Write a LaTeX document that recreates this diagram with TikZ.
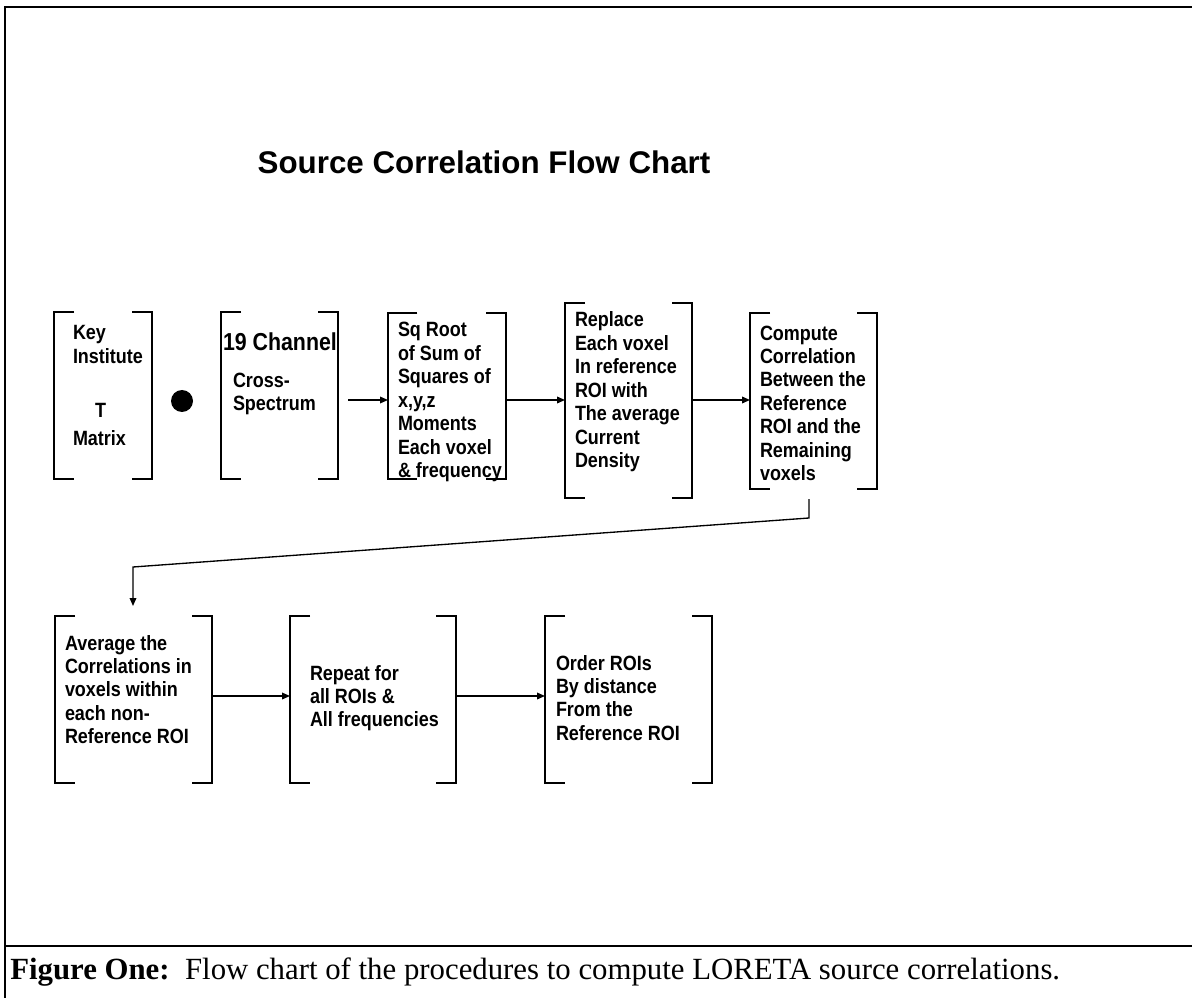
\documentclass[tikz,border=0pt]{standalone}
\usepackage{fontspec}
\setmainfont{Liberation Serif}
\newfontfamily\arialfont{Liberation Sans}
\newfontfamily\arialnarrow[FakeStretch=0.87]{Liberation Sans}
\usetikzlibrary{arrows.meta}
\newcommand{\boxfont}{\arialnarrow\bfseries\fontsize{15.5}{17.6}\selectfont}
% width, height, indent, first baseline, lines
\newcommand{\flowtext}[5]{\parbox[t][#2][t]{#1}{\raggedright\leftskip=#3\relax
  \rightskip=0pt plus 1fil minus 60pt\relax\hyphenpenalty=10000\relax\rule{0pt}{#4}#5}}
\begin{document}
\begin{tikzpicture}[x=0.75pt, y=-0.75pt, blk/.style={inner sep=0pt, outer sep=0pt, font=\boxfont}, bracket/.style={line width=1.3pt}, flow/.style={-{Triangle[length=6pt, width=5pt]}, line width=1pt}]
	\useasboundingbox (0,0) rectangle (1192,998);
	\draw[line width=1.5pt] (1192,7) -- (5,7) -- (5,998);
	\draw[line width=1.5pt] (5,946) -- (1192,946);
	\node[font=\arialfont\bfseries\fontsize{23.5}{28}\selectfont] (title) at (484,162) {Source Correlation Flow Chart};
	% first row
	\node[blk] (b1) at (103,395.5) {\flowtext{73.5pt}{125.25pt}{14.25pt}{21pt}{Key\\Institute\\[22.9pt]\hspace*{16.5pt}T\\[3.4pt]Matrix}};
	\node[circle, fill, inner sep=0pt, minimum size=16.5pt] (dot) at (182,401) {};
	\node[blk] (b2) at (279.5,395.5) {\flowtext{87.75pt}{125.25pt}{9pt}{28.8pt}{\hspace*{-7.5pt}{\fontsize{18.4}{17.6}\selectfont 19 Channel}\\[10pt]Cross-\\Spectrum}};
	\node[blk] (b3) at (447,396) {\flowtext{88.5pt}{124.5pt}{7.5pt}{18pt}{Sq Root\\of Sum of\\Squares of\\x,y,z\\Moments\\Each voxel\\\& frequency}};
	\node[blk] (b4) at (628.5,400.5) {\flowtext{95.25pt}{146.25pt}{7.5pt}{18pt}{Replace\\Each voxel\\In reference\\ROI with\\The average\\Current\\Density}};
	\node[blk] (b5) at (813.5,401) {\flowtext{95.25pt}{132pt}{7.5pt}{20.3pt}{Compute\\Correlation\\Between the\\Reference\\ROI and the\\Remaining\\voxels}};
	% second row
	\node[blk] (b6) at (133.5,699.5) {\flowtext{117.75pt}{125.25pt}{7.5pt}{25.5pt}{Average the\\Correlations in\\voxels within\\each non-\\Reference ROI}};
	\node[blk] (b7) at (373,699.5) {\flowtext{124.5pt}{125.25pt}{15pt}{48pt}{Repeat for\\all ROIs \&\\All frequencies}};
	\node[blk] (b8) at (628.5,699.5) {\flowtext{125.25pt}{125.25pt}{8.25pt}{40.5pt}{Order ROIs\\By distance\\From the\\Reference ROI}};
	\foreach \i/\s in {1/15pt,2/15pt,3/22pt,4/15pt,5/15pt,6/15pt,7/15pt,8/15pt} {
		\draw[bracket] ([xshift=\s]b\i.north west) -- (b\i.north west) -- (b\i.south west) -- ([xshift=\s]b\i.south west);
		\draw[bracket] ([xshift=-15pt]b\i.north east) -- (b\i.north east) -- (b\i.south east) -- ([xshift=-15pt]b\i.south east);
	}
	\coordinate (row1) at (0,400);
	\coordinate (row2) at (0,696);
	\coordinate (bend1) at (809,518);
	\coordinate (bend2) at (133,567);
	\draw[flow, shorten <=7.5pt] (b2.east |- row1) -- (b3.west |- row1);
	\draw[flow] (b3.east |- row1) -- (b4.west |- row1);
	\draw[flow] (b4.east |- row1) -- (b5.west |- row1);
	\draw[flow, shorten <=7.5pt, shorten >=7.5pt] (bend1 |- b5.south) -- (bend1) -- (bend2) -- (bend2 |- b6.north);
	\draw[flow] (b6.east |- row2) -- (b7.west |- row2);
	\draw[flow] (b7.east |- row2) -- (b8.west |- row2);
	% caption
	\node[anchor=west, inner sep=0pt, font=\fontsize{23.1}{27}\selectfont] (caption) at (10,972) {\textbf{Figure One:}\ \ Flow chart of the procedures to compute LORETA source correlations.};
\end{tikzpicture}
\end{document}
